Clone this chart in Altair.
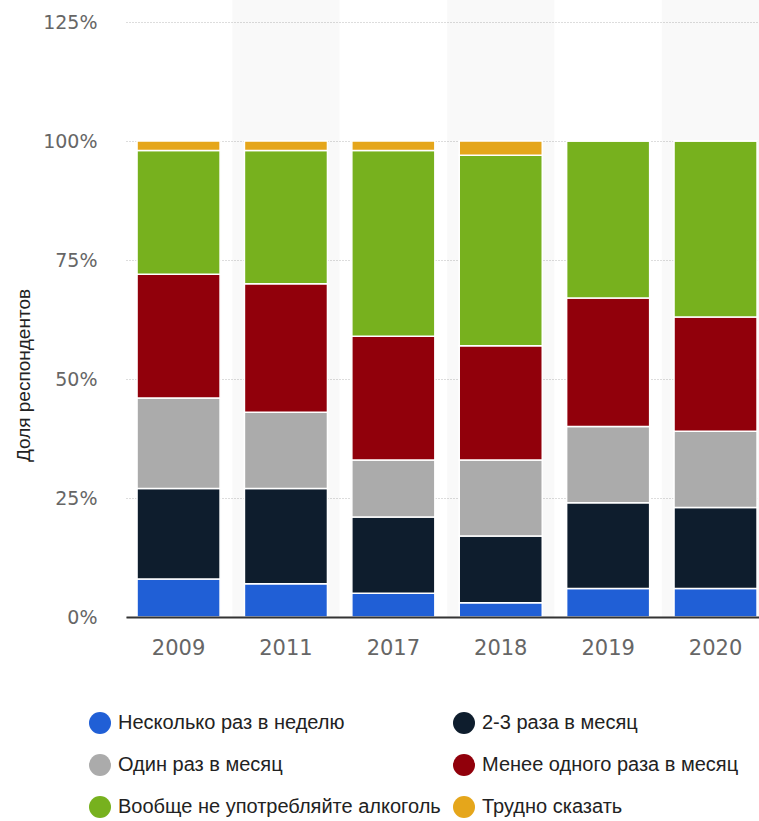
import altair as alt
import pandas as pd

years = ["2009", "2011", "2017", "2018", "2019", "2020"]
categories = [
    "Несколько раз в неделю",
    "2-3 раза в месяц",
    "Один раз в месяц",
    "Менее одного раза в месяц",
    "Вообще не употребляйте алкоголь",
    "Трудно сказать",
]
colors = ["#205fd6", "#0e1d2d", "#ababab", "#91000b", "#77b11e", "#e5a61b"]
# legend fills column by column
legend_order = [
    "Несколько раз в неделю",
    "Один раз в месяц",
    "Вообще не употребляйте алкоголь",
    "2-3 раза в месяц",
    "Менее одного раза в месяц",
    "Трудно сказать",
]

several_per_week = [8, 7, 5, 3, 6, 6]
two_three_month = [19, 20, 16, 14, 18, 17]
once_month = [19, 16, 12, 16, 16, 16]
less_than_once = [26, 27, 26, 24, 27, 24]
no_alcohol = [26, 28, 39, 40, 33, 37]
hard_to_say = [2, 2, 2, 3, 0, 0]

shaded_years = ["2011", "2018", "2020"]
y_ticks = [0, 25, 50, 75, 100, 125]

series = [several_per_week, two_three_month, once_month, less_than_once, no_alcohol, hard_to_say]
rows = []
for ci, (cat, vals) in enumerate(zip(categories, series)):
    for y, v in zip(years, vals):
        rows.append({"year": y, "category": cat, "value": v, "order": ci})
df = pd.DataFrame(rows)
shade_df = pd.DataFrame({"year": shaded_years})

x_scale = alt.Scale(domain=years, paddingInner=0.227, paddingOuter=0.0605, align=0.85)

x_enc = alt.X(
    "year:N",
    scale=x_scale,
    axis=alt.Axis(
        title=None, labelAngle=0, ticks=False, domainColor="#333", domainWidth=2,
        labelPadding=20, labelFont="DejaVu Sans", labelFontSize=21, labelColor="#666",
        zindex=1,
    ),
)

shade = alt.Chart(shade_df).mark_bar(
    color="#000", opacity=0.022, width=alt.RelativeBandSize(1.294)
).encode(x=x_enc, y=alt.value(-22), y2=alt.value(595))

bars = alt.Chart(df).mark_bar(stroke="white", strokeWidth=1.5).encode(
    x=x_enc,
    y=alt.Y(
        "value:Q",
        stack="zero",
        scale=alt.Scale(domain=[0, 125], nice=False),
        axis=alt.Axis(
            values=y_ticks, labelExpr="datum.value + '%'", domain=False, ticks=False,
            labelPadding=29, labelFont="DejaVu Sans", labelFontSize=19, labelColor="#666",
            grid=True, gridDash=[1, 2], gridColor="#bbb",
            title="Доля респондентов", titleFont="Liberation Sans", titleFontSize=19,
            titleFontWeight="normal", titleColor="#222", titleX=-93, titleY=353,
        ),
    ),
    color=alt.Color(
        "category:N",
        scale=alt.Scale(domain=categories, range=colors),
        legend=alt.Legend(
            title=None, orient="none", legendX=-37, legendY=690, columns=2,
            values=legend_order,
            symbolType="circle", symbolSize=484, symbolStrokeWidth=0,
            labelFont="Liberation Sans", labelFontSize=20, labelColor="#222",
            labelOffset=7, columnPadding=12, rowPadding=20, labelLimit=400,
        ),
    ),
    order=alt.Order("order:Q"),
)

chart = alt.layer(shade, bars).properties(
    width=633, height=595,
    padding={"left": 126, "top": 22, "right": 0, "bottom": 204},
    autosize=alt.AutoSizeParams(type="none"),
).configure_view(strokeWidth=0)

chart.save("out.html", embed_options={"renderer": "svg", "actions": False})
